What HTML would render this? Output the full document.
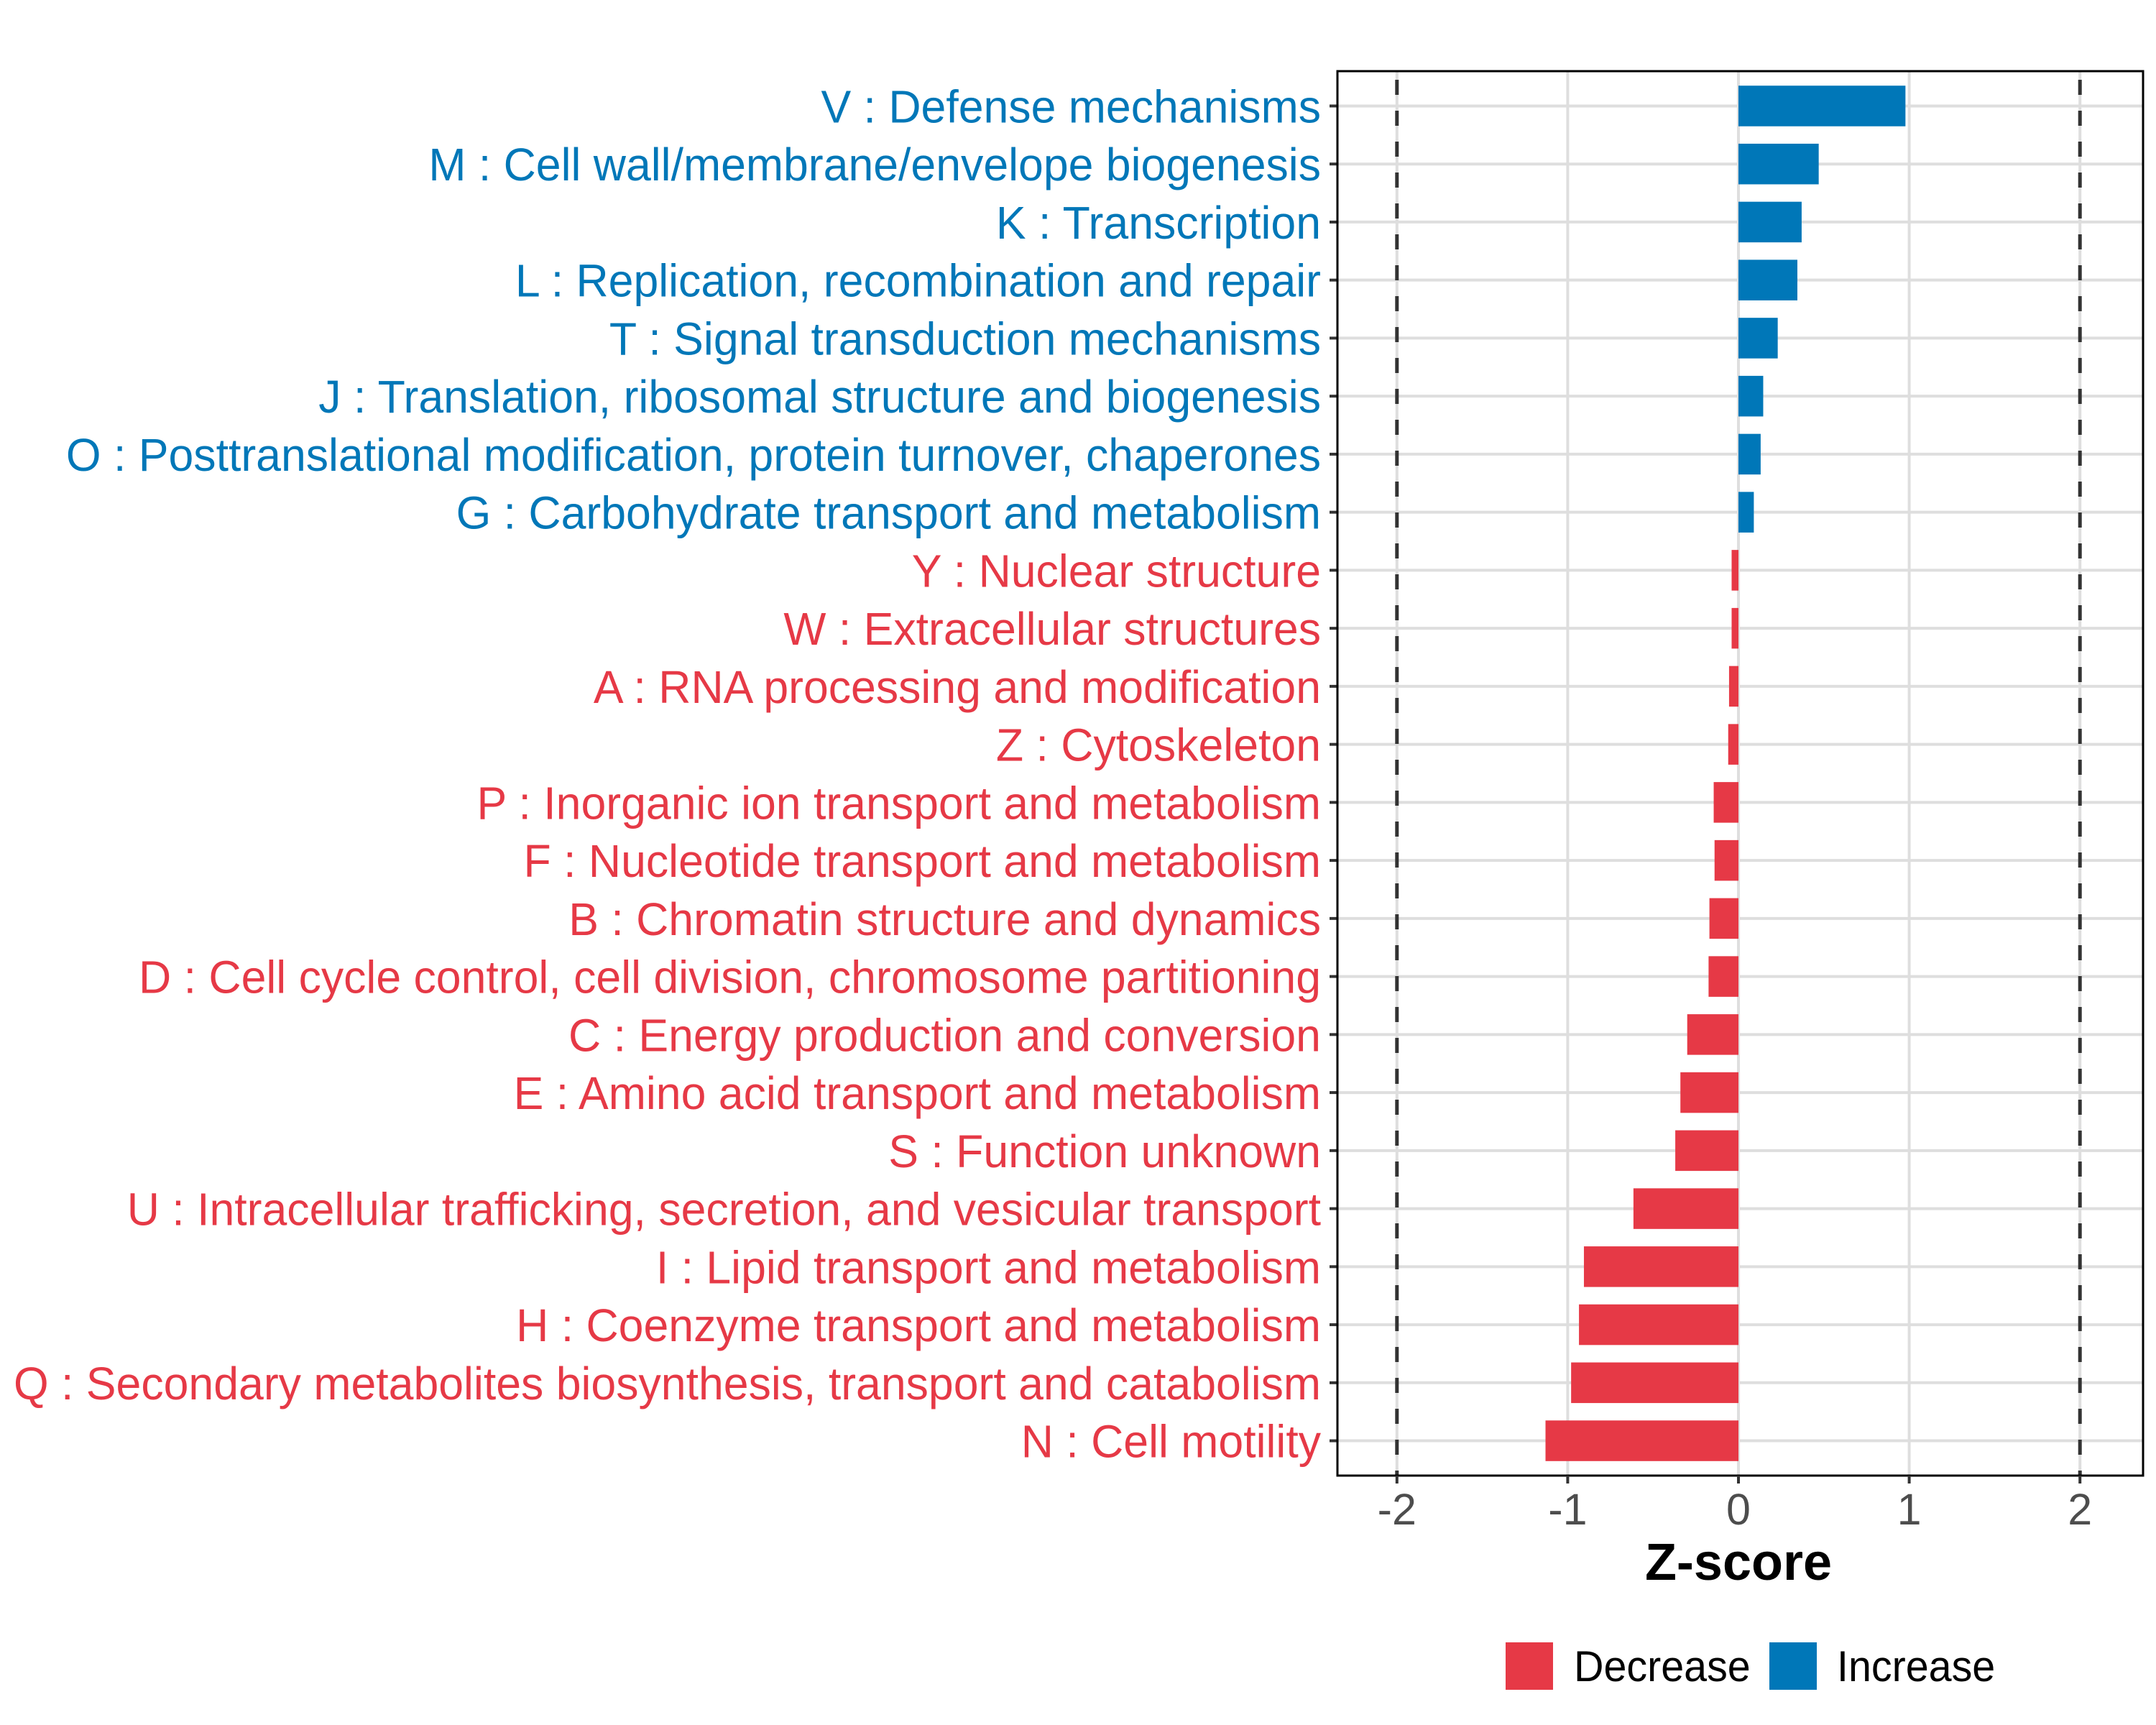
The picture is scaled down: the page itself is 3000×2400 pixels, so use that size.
<!DOCTYPE html>
<html><head><meta charset="utf-8"><style>
html,body{margin:0;padding:0;background:#fff}
svg{display:block;font-family:"Liberation Sans",Arial,sans-serif}
</style></head><body>
<svg id="chart" width="3000" height="2400" viewBox="0 0 3000 2400" xmlns="http://www.w3.org/2000/svg">
<g id="grid"></g>
<g id="bars"></g>
<g id="ylabels" transform="translate(1838,0) scale(0.978,1) translate(-1838,0)"></g>
<g id="yticks"></g>
<g id="xaxis"></g>
<text x="2419" y="2198" text-anchor="middle" font-size="72" font-weight="bold" fill="#000">Z-score</text>
<g>
  <rect x="2095" y="2285" width="66" height="66" fill="#e63946"/>
  <text x="2190" y="2339" font-size="60" fill="#000" transform="translate(2190,0) scale(0.957,1) translate(-2190,0)">Decrease</text>
  <rect x="2462" y="2285" width="66" height="66" fill="#0077b8"/>
  <text x="2556" y="2339" font-size="60" fill="#000" transform="translate(2556,0) scale(0.957,1) translate(-2556,0)">Increase</text>
</g>
</svg>
<script>
const categories = ["V : Defense mechanisms","M : Cell wall/membrane/envelope biogenesis","K : Transcription","L : Replication, recombination and repair","T : Signal transduction mechanisms","J : Translation, ribosomal structure and biogenesis","O : Posttranslational modification, protein turnover, chaperones","G : Carbohydrate transport and metabolism","Y : Nuclear structure","W : Extracellular structures","A : RNA processing and modification","Z : Cytoskeleton","P : Inorganic ion transport and metabolism","F : Nucleotide transport and metabolism","B : Chromatin structure and dynamics","D : Cell cycle control, cell division, chromosome partitioning","C : Energy production and conversion","E : Amino acid transport and metabolism","S : Function unknown","U : Intracellular trafficking, secretion, and vesicular transport","I : Lipid transport and metabolism","H : Coenzyme transport and metabolism","Q : Secondary metabolites biosynthesis, transport and catabolism","N : Cell motility"];
const zscores = [0.978,0.47,0.37,0.345,0.23,0.145,0.13,0.09,-0.04,-0.04,-0.055,-0.06,-0.145,-0.14,-0.17,-0.175,-0.3,-0.34,-0.37,-0.615,-0.905,-0.934,-0.98,-1.13];
const xTicks = [-2,-1,0,1,2];
const xTickLabels = ["-2","-1","0","1","2"];
const thresholds = [-2,2];

const NS="http://www.w3.org/2000/svg";
const L=1861,R=2982,T=99,B=2053;
const X0=2419,UNIT=237.6;
const x = v => X0 + v*UNIT;
const step=(B-T)/(categories.length-1+1.2);
const y = i => T + step*(0.6+i);
const barH = step*0.7;
function mk(tag,attrs,parent){const e=document.createElementNS(NS,tag);for(const k in attrs)e.setAttribute(k,attrs[k]);parent.appendChild(e);return e;}
const grid=document.getElementById('grid'),bars=document.getElementById('bars'),yl=document.getElementById('ylabels'),yt=document.getElementById('yticks'),xa=document.getElementById('xaxis');
mk('rect',{x:L,y:T,width:R-L,height:B-T,fill:'#fff'},grid);
xTicks.forEach(v=>{const l=mk('line',{x1:x(v),x2:x(v),y1:T,y2:B,stroke:'#dedede','stroke-width':4},grid);

});
categories.forEach((c,i)=>{const l=mk('line',{x1:L,x2:R,y1:y(i),y2:y(i),stroke:'#dedede','stroke-width':4},grid);

});
categories.forEach((c,i)=>{const v=zscores[i];const col=v>=0?'#0077b8':'#e63946';
const r=mk('rect',{x:Math.min(x(0),x(v)),y:y(i)-barH/2,width:Math.abs(x(v)-x(0)),height:barH,fill:col},bars);


const t=mk('text',{x:1838,y:y(i)+23,'text-anchor':'end','font-size':64,fill:col},yl);t.textContent=c;


const tk=mk('line',{x1:1850,x2:L,y1:y(i),y2:y(i),stroke:'#333','stroke-width':4},yt);

});
thresholds.forEach(v=>{const l=mk('line',{x1:x(v),x2:x(v),y1:T,y2:B,stroke:'#333','stroke-width':5,'stroke-dasharray':'21 22','stroke-dashoffset':'-12'},bars);

});
mk('rect',{x:L,y:T,width:R-L,height:B-T,fill:'none',stroke:'#000','stroke-width':3},xa);
xTicks.forEach((v,i)=>{const tk=mk('line',{x1:x(v),x2:x(v),y1:B,y2:B+11,stroke:'#333','stroke-width':4},xa);


const t=mk('text',{x:x(v),y:2121,'text-anchor':'middle','font-size':61,fill:'#4d4d4d'},xa);t.textContent=xTickLabels[i];

});
</script>
</body></html>
